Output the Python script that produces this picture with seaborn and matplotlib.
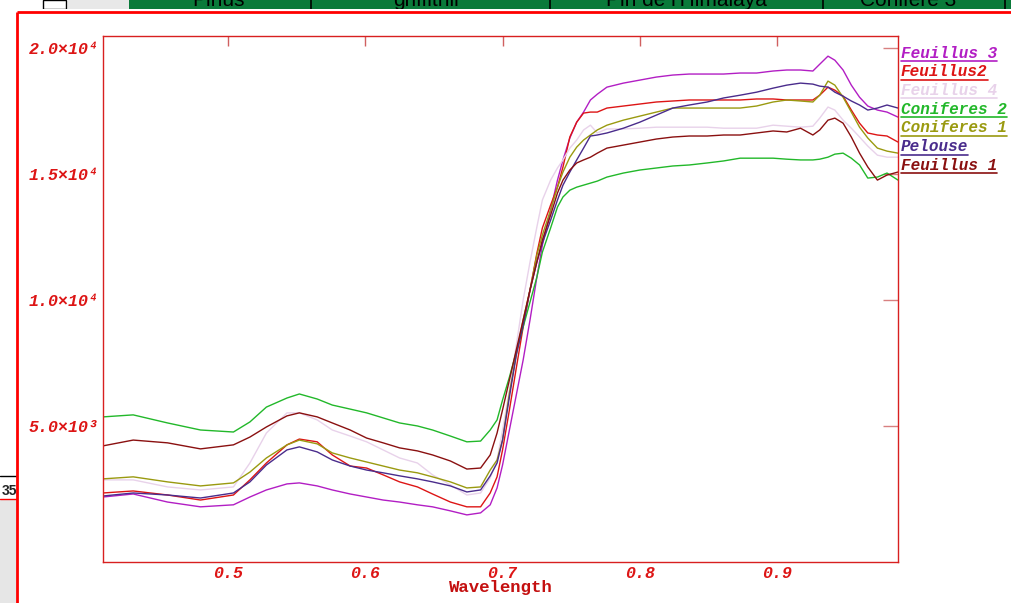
import numpy as np
import pandas as pd
import matplotlib
matplotlib.use("Agg")
import matplotlib.pyplot as plt
import seaborn as sns
from matplotlib.patches import Rectangle

# --------------------------
# Datos (longitud de onda en micras)
# --------------------------
wavelength = [0.409, 0.431, 0.456, 0.480, 0.504, 0.516, 0.528, 0.543, 0.552, 0.565,
              0.576, 0.589, 0.601, 0.613, 0.625, 0.638, 0.649, 0.662, 0.674, 0.684,
              0.691, 0.696, 0.700, 0.705, 0.710, 0.715, 0.720, 0.725, 0.729, 0.735,
              0.740, 0.744, 0.749, 0.754, 0.759, 0.764, 0.769, 0.776, 0.788, 0.800,
              0.812, 0.824, 0.836, 0.849, 0.861, 0.873, 0.885, 0.897, 0.907, 0.917,
              0.926, 0.931, 0.937, 0.942, 0.948, 0.954, 0.960, 0.966, 0.973, 0.980, 0.988]

feuillus_3 = [2180, 2300, 1980, 1790, 1870, 2180, 2460, 2700, 2740, 2620,
              2460, 2300, 2180, 2060, 1980, 1870, 1790, 1630, 1470, 1550,
              1870, 2540, 3450, 4840, 6230, 7620, 9210, 10910, 12180, 13570,
              14760, 15560, 16430, 17060, 17460, 17940, 18170, 18450, 18610, 18730,
              18850, 18930, 18970, 18970, 18970, 19010, 19010, 19090, 19130, 19130,
              19090, 19360, 19680, 19520, 19130, 18530, 18050, 17700, 17540, 17460, 17260]

feuillus_2 = [2340, 2420, 2260, 2060, 2260, 2860, 3530, 4250, 4480, 4370,
              3850, 3410, 3330, 3060, 2780, 2580, 2300, 1980, 1790, 1790,
              2340, 2980, 4050, 5640, 7300, 8930, 10400, 11860, 12860, 13770,
              14480, 15280, 16470, 17060, 17420, 17460, 17460, 17620, 17700, 17780,
              17860, 17900, 17940, 17940, 17940, 17940, 17980, 17980, 17940, 17940,
              17940, 18130, 18450, 18330, 18090, 17540, 17020, 16630, 16550, 16510, 16270]

feuillus_4 = [2860, 2860, 2580, 2460, 2580, 3530, 4720, 5520, 5520, 5240,
              4840, 4600, 4370, 4050, 3730, 3530, 3060, 2660, 2260, 2340,
              2940, 3650, 4840, 6430, 8210, 10000, 11510, 12900, 13970, 14760,
              15240, 15560, 16030, 16350, 16750, 16940, 16630, 16790, 16790, 16820,
              16860, 16860, 16860, 16860, 16820, 16820, 16820, 16940, 16900, 16860,
              16900, 17220, 17660, 17540, 17140, 16820, 16470, 16110, 15750, 15670, 15670]

coniferes_2 = [5360, 5440, 5120, 4840, 4760, 5160, 5750, 6110, 6270, 6070,
               5830, 5670, 5520, 5320, 5120, 5000, 4840, 4600, 4370, 4400,
               4840, 5240, 6030, 6940, 7940, 8930, 9920, 10910, 11900, 12860,
               13690, 14090, 14360, 14480, 14560, 14640, 14720, 14880, 15040, 15160,
               15240, 15320, 15360, 15440, 15520, 15630, 15630, 15630, 15590, 15560,
               15560, 15590, 15670, 15790, 15830, 15630, 15360, 14840, 14880, 15040, 14760]

coniferes_1 = [2900, 2980, 2780, 2620, 2740, 3170, 3730, 4250, 4440, 4290,
               3930, 3730, 3570, 3410, 3250, 3140, 2980, 2780, 2540, 2580,
               3250, 3650, 4440, 6310, 7820, 9210, 10400, 11790, 12580, 13570,
               14480, 15080, 15670, 16070, 16350, 16550, 16750, 16940, 17140, 17300,
               17460, 17620, 17620, 17620, 17620, 17620, 17700, 17860, 17940, 17900,
               17860, 18130, 18690, 18530, 18050, 17460, 16860, 16430, 16030, 15910, 15830]

pelouse = [2220, 2340, 2260, 2140, 2340, 2780, 3450, 4050, 4170, 3970,
           3650, 3410, 3250, 3140, 3020, 2900, 2780, 2620, 2380, 2460,
           3020, 3530, 4440, 6150, 7820, 9010, 10400, 11510, 12260, 13170,
           13970, 14560, 15080, 15560, 16030, 16510, 16550, 16630, 16820, 17060,
           17340, 17620, 17740, 17860, 18020, 18130, 18250, 18410, 18530, 18610,
           18570, 18490, 18450, 18250, 18090, 17900, 17740, 17540, 17620, 17740, 17620]

feuillus_1 = [4210, 4440, 4330, 4090, 4250, 4560, 4960, 5400, 5520, 5360,
              5120, 4840, 4520, 4330, 4130, 4010, 3850, 3610, 3290, 3330,
              3850, 4720, 5640, 6830, 8020, 9210, 10400, 11510, 12380, 13370,
              14250, 14760, 15160, 15440, 15560, 15670, 15830, 16030, 16150, 16270,
              16390, 16470, 16510, 16510, 16550, 16550, 16630, 16710, 16670, 16820,
              16550, 16750, 17140, 17220, 17020, 16470, 15830, 15280, 14760, 14960, 15080]

series_names = ["Feuillus 3", "Feuillus2", "Feuillus 4", "Coniferes 2",
                "Coniferes 1", "Pelouse", "Feuillus 1"]
series_values = [feuillus_3, feuillus_2, feuillus_4, coniferes_2,
                 coniferes_1, pelouse, feuillus_1]
series_colors = ["#b21ec4", "#dd1515", "#e8d2ea", "#22b82a",
                 "#9a9a10", "#4a2c8c", "#8a1010"]

x_ticks = [0.5, 0.6, 0.7, 0.8, 0.9]
x_tick_labels = ["0.5", "0.6", "0.7", "0.8", "0.9"]
y_ticks = [5000, 10000, 15000, 20000]
y_tick_labels = ["5.0×10³", "1.0×10⁴", "1.5×10⁴", "2.0×10⁴"]

# Tabla larga para seaborn
df = pd.DataFrame({
    "Wavelength": np.tile(wavelength, len(series_names)),
    "Value": np.concatenate(series_values),
    "Serie": np.repeat(series_names, len(wavelength)),
})

sns.set_style("white")
mono = ["Liberation Mono", "DejaVu Sans Mono"]
red = "#dd1515"

W, H = 1012, 603
fig = plt.figure(figsize=(W / 100, H / 100), dpi=100)
fig.patch.set_facecolor("white")


def box(x0, y0, x1, y1):
    return [x0 / W, 1 - y1 / H, (x1 - x0) / W, (y1 - y0) / H]


# --------------------------
# Fondo (ventana de la captura)
# --------------------------
bg = fig.add_axes([0, 0, 1, 1], zorder=0)
bg.set_xlim(0, W)
bg.set_ylim(H, 0)
bg.axis("off")
bg.add_patch(Rectangle((0, 499), 17, H - 499, color="#e6e6e6", lw=0))
bg.plot([0, 17], [476, 476], color="black", lw=1)
bg.plot([0, 17], [499, 499], color="#ff0000", lw=1)
bg.text(2, 491, "35", fontsize=10, fontweight="bold", va="center",
        family="Liberation Sans")
bg.plot([17, 17], [12, H], color="#ff0000", lw=2, solid_capstyle="butt")
bg.plot([17, W], [12, 12], color="#ff0000", lw=2, solid_capstyle="butt")

# Cabecera verde (tabla de fondo, cortada)
band = fig.add_axes(box(0, 0, W, 9), zorder=1)
band.set_xlim(0, W)
band.set_ylim(9, 0)
band.axis("off")
band.add_patch(Rectangle((43, 0), 23, 9, facecolor="white", edgecolor="black", lw=1))
band.add_patch(Rectangle((68, 0), 61, 9, facecolor="#e8e8e8", lw=0))
band.add_patch(Rectangle((129, 0), W - 129, 9, facecolor="#0a7a3a", lw=0))
for xd in [311, 550, 823, 1005]:
    band.plot([xd, xd], [0, 9], color="black", lw=1.2)
for xt, txt in [(219, "Pinus"), (426, "griffithii"), (686, "Pin de l'Himalaya"),
                (908, "Conifere 3")]:
    band.text(xt, 6, txt, ha="center", va="baseline", fontsize=15,
              color="black", family="Liberation Sans", clip_on=True)

# --------------------------
# Gráfico principal
# --------------------------
ax = fig.add_axes(box(103, 36, 898, 562), zorder=2)
sns.lineplot(data=df, x="Wavelength", y="Value", hue="Serie",
             hue_order=series_names, palette=dict(zip(series_names, series_colors)),
             estimator=None, sort=False, legend=False, linewidth=1.0, ax=ax)

ax.set_xlim(0.409, 0.988)
ax.set_ylim(-400, 20480)
ax.set_xticks(x_ticks)
ax.set_xticklabels(x_tick_labels)
ax.set_yticks(y_ticks)
ax.set_yticklabels(y_tick_labels)
ax.tick_params(axis="x", direction="in", length=7, width=1, color="#d06060",
               top=True, pad=3, labelcolor=red, labelsize=12)
ax.tick_params(axis="y", direction="in", length=11, width=1, color="#d88080",
               right=True, pad=3, labelcolor=red, labelsize=12)
for lbl in ax.get_xticklabels() + ax.get_yticklabels():
    lbl.set_fontfamily(mono)
    lbl.set_fontweight("bold")
    lbl.set_fontstyle("italic")

ax.set_ylabel("")
ax.set_xlabel("Wavelength", color="#c41010", fontsize=12.5, fontweight="bold",
              family=mono)
ax.xaxis.set_label_coords(0.5, -0.035)
ax.xaxis.label.set_va("top")

for sp in ax.spines.values():
    sp.set_color("#d82020")
    sp.set_linewidth(1)

# --------------------------
# Leyenda subrayada a la derecha
# --------------------------
leg_texts = []
for i, (name, col) in enumerate(zip(series_names, series_colors)):
    yc = 53 + i * 18.7
    t = bg.text(901, yc, name, color=col, fontsize=11.5, fontweight="bold",
                fontstyle="italic", family=mono, va="center", ha="left")
    leg_texts.append((t, yc, col))

fig.canvas.draw()
renderer = fig.canvas.get_renderer()
for t, yc, col in leg_texts:
    ext = t.get_window_extent(renderer)
    bg.plot([ext.x0, ext.x1], [yc + 8, yc + 8], color=col, lw=1.2)

fig.savefig("out.png", dpi=100, facecolor="white")
